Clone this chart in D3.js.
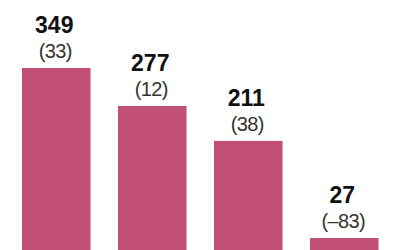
<!DOCTYPE html>
<html>
<head>
<meta charset="utf-8">
<script src="https://cdn.jsdelivr.net/npm/d3@7"></script>
<style>
  body { margin: 0; background: #fff; }
  svg { display: block; }
</style>
</head>
<body>
<div id="chart-area"></div>
<script>
// data
const categories = ["a", "b", "c", "d"];
const values = [349, 277, 211, 27];
const changes = ["(33)", "(12)", "(38)", "(\u201383)"];

const WIDTH = 400, HEIGHT = 250;

const svg = d3.select("#chart-area").append("svg")
    .attr("width", WIDTH)
    .attr("height", HEIGHT);

// x scale
const xScale = d3.scaleBand()
    .domain(categories)
    .range([22, 378.5])
    .paddingInner(0.286)
    .paddingOuter(0);

// y scale (baseline sits just under the bottom edge)
const yScale = d3.scaleLinear()
    .domain([0, 349])
    .range([252.3, 68]);

const data = categories.map((c, i) => ({cat: c, value: values[i], change: changes[i]}));

svg.selectAll(".bar")
    .data(data)
    .enter()
    .append("rect")
    .attr("class", "bar")
    .attr("x", d => xScale(d.cat))
    .attr("y", d => yScale(d.value))
    .attr("width", xScale.bandwidth())
    .attr("height", d => yScale(0) - yScale(d.value))
    .attr("fill", "#c14f76");

svg.selectAll(".val")
    .data(data)
    .enter()
    .append("text")
    .attr("class", "val")
    .attr("x", d => xScale(d.cat) + xScale.bandwidth() / 2 - 2)
    .attr("y", d => yScale(d.value) - 35)
    .attr("text-anchor", "middle")
    .style("font-family", "'Liberation Sans', Arial, sans-serif")
    .style("font-weight", "bold")
    .style("font-size", "23px")
    .attr("fill", "#111")
    .text(d => d.value);

svg.selectAll(".chg")
    .data(data)
    .enter()
    .append("text")
    .attr("class", "chg")
    .attr("x", d => xScale(d.cat) + xScale.bandwidth() / 2 - 1)
    .attr("y", d => yScale(d.value) - 10)
    .attr("text-anchor", "middle")
    .style("font-family", "'Liberation Sans', Arial, sans-serif")
    .style("font-size", "20px")
    .style("letter-spacing", "-0.6px")
    .attr("fill", "#333")
    .text(d => d.change);
</script>
</body>
</html>
